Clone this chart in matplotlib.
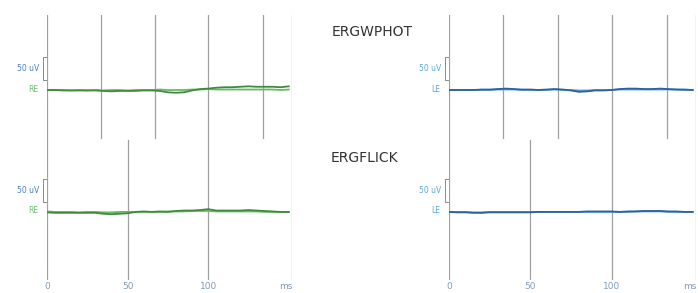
import numpy as np
import matplotlib.pyplot as plt

# time axis of the recordings (ms)
t_ms = np.arange(0, 155, 5)

# traces in uV, relative to their own baseline
re_phot_a = [0, 0, -1, -1, -1, -1, -1, -2, -3, -2, -2, -2, -1, -1, -2, -5,
             -6, -5, -1, 2, 3, 5, 6, 6, 7, 8, 7, 7, 7, 6, 8]
re_phot_b = [0, 0, 0, -1, 0, -1, 0, -1, 0, 0, -1, 0, 0, 0, 1, 0,
             0, 0, 1, 1, 2, 1, 1, 1, 1, 1, 1, 1, 1, 0, 1]
re_flick_a = [-1, -2, -2, -2, -2, -2, -2, -4, -5, -4, -3, 0, 1, 0, 1, 0,
              2, 3, 3, 4, 6, 3, 3, 3, 3, 4, 3, 2, 1, 0, 0]
re_flick_b = [1, 0, 0, 0, -1, 0, 0, -1, -1, 0, 0, 0, 0, 0, 0, 1,
              1, 1, 2, 2, 2, 1, 1, 1, 1, 1, 1, 0, 0, 0, 0]
le_phot_a = [0, 0, 0, 0, 1, 1, 2, 3, 2, 1, 1, 0, 1, 2, 1, -1,
             -4, -3, -1, -1, 0, 2, 3, 3, 2, 2, 3, 2, 1, 1, 0]
le_phot_b = [0, 0, 0, 0, 0, 0, 1, 1, 1, 0, 0, 0, 0, 1, 0, 0,
             -1, -1, 0, 0, 0, 1, 1, 1, 1, 1, 1, 1, 1, 0, 0]
le_flick_a = [0, -1, -1, -2, -2, -1, -1, -1, -1, -1, -1, 0, 0, 0, 0, 0,
              0, 1, 1, 1, 1, 0, 1, 1, 2, 2, 2, 1, 1, 0, 0]
le_flick_b = [0, 0, 0, -1, -1, 0, 0, 0, 0, 0, 0, 0, 0, 0, 0, 0,
              0, 0, 0, 0, 0, 0, 0, 1, 1, 1, 1, 0, 0, 0, 0]

# stimulus markers (ms)
phot_flashes = [33.5, 67, 134]
flick_flashes = [50]
full_lines = [0, 100, 152]

tick_pos = [0, 50, 100]
tick_text = ['0', '50', '100']

# layout in uV: the axis spans 576 uV, traces sit at two offsets
y_top = 576
off_phot = 413
off_flick = 148

fig = plt.figure(figsize=(6.98, 2.93), dpi=100)
W, H = 698, 293


def panel(x0, x1, eye, traces_phot, traces_flick, colors, txt_color, eye_color):
    ax = fig.add_axes([x0 / W, 13 / H, (x1 - x0) / W, 265 / H])
    ax.set_xlim(0, 152)
    ax.set_ylim(0, y_top)
    for s in ax.spines.values():
        s.set_visible(False)
    ax.set_yticks([])
    ax.set_xticks([])

    for x in full_lines:
        ax.axvline(x, color='#a0a0a0', lw=0.9)
    for x in phot_flashes:
        ax.axvline(x, ymin=0.536, ymax=1, color='#a0a0a0', lw=0.9)
    for x in flick_flashes:
        ax.axvline(x, ymin=0, ymax=0.528, color='#a0a0a0', lw=0.9)

    for tr, c in zip(traces_phot, colors):
        ax.plot(t_ms, np.array(tr) + off_phot, color=c, lw=1.3)
    for tr, c in zip(traces_flick, colors):
        ax.plot(t_ms, np.array(tr) + off_flick, color=c, lw=1.3)

    # 50 uV calibration brackets
    for off in (off_phot, off_flick):
        b0, b1 = off + 22, off + 72
        ax.plot([-0.6, -2.5, -2.5, -0.6], [b0, b0, b1, b1], color='#8a8a8a',
                lw=0.7, clip_on=False)
        ax.text(-5.0, (b0 + b1) / 2, '50 uV', color=txt_color, fontsize=5.5,
                ha='right', va='center')
        ax.text(-5.5, off + 2, eye, color=eye_color, fontsize=5.5,
                ha='right', va='center')

    for p, s in zip(tick_pos, tick_text):
        ax.text(p, -14, s, color='#7f9bb8', fontsize=6.5, ha='center', va='center',
                clip_on=False)
    ax.text(152.5, -14, 'ms', color='#7f9bb8', fontsize=6.5, ha='right',
            va='center', clip_on=False)
    return ax


panel(47, 292, 'RE', [re_phot_b, re_phot_a], [re_flick_b, re_flick_a],
      ['#66bb66', '#3f8a3f'], '#4a7fc0', '#6cbf6c')
panel(449, 696, 'LE', [le_phot_b, le_phot_a], [le_flick_b, le_flick_a],
      ['#5aa6da', '#2f5f9f'], '#5aa8d8', '#5aa8d8')

fig.text(372 / W, 1 - 32 / H, 'ERGWPHOT', fontsize=10, color='#333333',
         ha='center', va='center')
fig.text(364 / W, 1 - 158 / H, 'ERGFLICK', fontsize=10, color='#333333',
         ha='center', va='center')

fig.savefig('out.png', dpi=100, facecolor='white')
